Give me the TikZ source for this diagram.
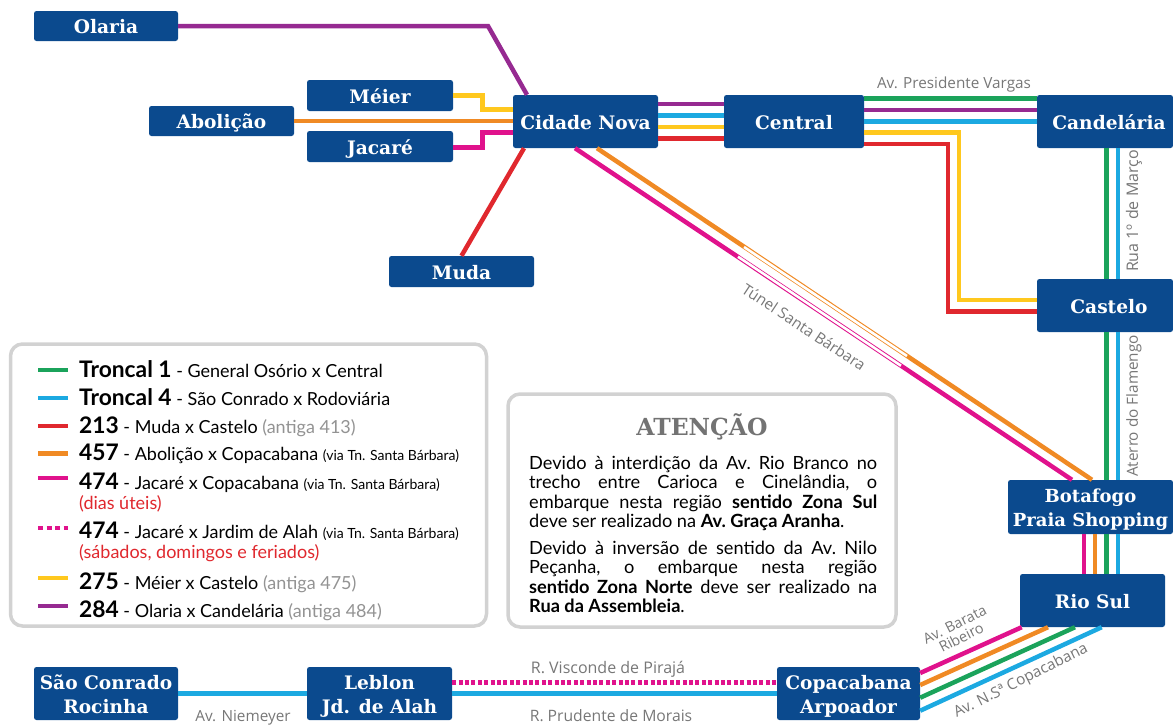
\documentclass[tikz,border=0pt]{standalone}
\usepackage{fontspec}
\setmainfont{Lato}
\newfontfamily\slab{DejaVu Serif}
\newfontfamily\open{Open Sans}
\definecolor{navy}{HTML}{0B4A8E}
\definecolor{cgreen}{HTML}{1BA35B}
\definecolor{cblue}{HTML}{1CA9E1}
\definecolor{cred}{HTML}{E0282E}
\definecolor{corange}{HTML}{F08A24}
\definecolor{cmag}{HTML}{E0128C}
\definecolor{cyel}{HTML}{FFC81E}
\definecolor{cpur}{HTML}{962A91}
\definecolor{boxgray}{HTML}{D2D2D2}
\definecolor{lblgray}{HTML}{777777}
\tikzset{
  station/.style={fill=navy,rounded corners=2.5pt,text=white,inner sep=0pt,align=center,text height=15.5pt,text depth=0pt,font=\slab\bfseries\fontsize{18.6}{24}\selectfont},
  stationtwo/.style={station,text height=39.5pt,text depth=0pt},
  route/.style={line width=4.5pt},
  tunnelwhite/.style={line width=2.6pt,draw=white},
  street/.style={text=lblgray,inner sep=0pt,font=\open\fontsize{15.3}{16}\selectfont,align=center},
  infobox/.style={draw=boxgray,line width=3.5pt,rounded corners=12pt,fill=white},
  lg/.style={anchor=base west,inner sep=0pt,text=black,font=\fontsize{18}{19}\selectfont},
  swatch/.style={line width=4.5pt},
  para/.style={anchor=north west,inner sep=0pt,text=black,text width=348pt,align=justify,font=\frenchspacing\fontsize{18.2}{19.2}\selectfont},
}
\newcommand{\gr}[1]{{\color{gray!85}#1}}
\newcommand{\sm}[1]{{\fontsize{14}{14}\selectfont #1}}
\newcommand{\nm}[1]{{\bfseries\fontsize{22.8}{20}\selectfont #1}}
\begin{document}
\begin{tikzpicture}[x=1pt,y=-1pt]
\useasboundingbox (0,0) rectangle (1173,726);
% stations
\node[station,minimum width=144pt,minimum height=30pt] (olaria) at (106,26) {Olaria};
\node[station,minimum width=146pt,minimum height=31pt] (meier) at (380,95.5) {Méier};
\node[station,minimum width=145pt,minimum height=30pt] (abolicao) at (221.5,121) {Abolição};
\node[station,minimum width=146pt,minimum height=31pt] (jacare) at (380,146.5) {Jacaré};
\node[station,minimum width=145pt,minimum height=53pt] (cidade) at (585.5,121.5) {Cidade Nova};
\node[station,minimum width=140pt,minimum height=53pt] (central) at (794,121.5) {Central};
\node[station,minimum width=136pt,minimum height=53pt] (candelaria) at (1105,121.5) {\hspace*{8pt}Candelária};
\node[station,minimum width=145pt,minimum height=31pt] (muda) at (461.5,271.5) {Muda};
\node[station,minimum width=136pt,minimum height=53pt] (castelo) at (1105,305.5) {\hspace*{8pt}Castelo};
\node[stationtwo,minimum width=165pt,minimum height=54pt,font=\slab\bfseries\fontsize{18}{24}\selectfont] (botafogo) at (1090.5,507) {Botafogo\\Praia Shopping};
\node[station,minimum width=145pt,minimum height=53pt] (riosul) at (1092.5,600.5) {Rio Sul};
\node[stationtwo,minimum width=144pt,minimum height=53pt] (saoconrado) at (106,693.5) {São Conrado\\Rocinha};
\node[stationtwo,minimum width=145pt,minimum height=53pt] (leblon) at (379.5,693.5) {Leblon\\Jd. de Alah};
\node[stationtwo,minimum width=143pt,minimum height=53pt] (copacabana) at (848.5,693.5) {Copacabana\\Arpoador};
% upstream connectors
\draw[route,cpur] (olaria.east) -- (488,26) -- (cidade.north -| 527,0);
\draw[route,cyel] (meier.east) -- (482.7,95.5) -- (482.7,109.7) -- (cidade.west |- 0,109.7);
\draw[route,corange] (abolicao.east) -- (cidade.west |- 0,121);
\draw[route,cmag] (jacare.east |- 0,147.7) -- (482.7,147.7) -- (482.7,132.3) -- (cidade.west |- 0,132.3);
\draw[route,cred] (muda.north) -- (cidade.south -| 524,0);
% cidade - central
\draw[route,cpur] (cidade.east |- 0,104) -- (central.west |- 0,104);
\draw[route,cblue] (cidade.east |- 0,115.7) -- (central.west |- 0,115.7);
\draw[route,cyel] (cidade.east |- 0,126.8) -- (central.west |- 0,126.8);
\draw[route,cred] (cidade.east |- 0,138.3) -- (central.west |- 0,138.3);
% central - candelaria / castelo
\draw[route,cgreen] (central.east |- 0,98.7) -- (candelaria.west |- 0,98.7);
\draw[route,cpur] (central.east |- 0,110) -- (candelaria.west |- 0,110);
\draw[route,cblue] (central.east |- 0,121.3) -- (candelaria.west |- 0,121.3);
\draw[route,cyel] (central.east |- 0,132.7) -- (959,132.7) -- (959,300) -- (castelo.west |- 0,300);
\draw[route,cred] (central.east |- 0,144) -- (948,144) -- (948,311.7) -- (castelo.west |- 0,311.7);
% vertical trunk
\draw[route,cgreen] (candelaria.south -| 1106.7,0) -- (castelo.north -| 1106.7,0);
\draw[route,cblue] (candelaria.south -| 1118,0) -- (castelo.north -| 1118,0);
\draw[route,cgreen] (castelo.south -| 1106.7,0) -- (botafogo.north -| 1106.7,0);
\draw[route,cblue] (castelo.south -| 1118,0) -- (botafogo.north -| 1118,0);
\draw[route,cgreen] (botafogo.south -| 1106.7,0) -- (riosul.north -| 1106.7,0);
\draw[route,cblue] (botafogo.south -| 1118,0) -- (riosul.north -| 1118,0);
\draw[route,cmag] (botafogo.south -| 1084,0) -- (riosul.north -| 1084,0);
\draw[route,corange] (botafogo.south -| 1095,0) -- (riosul.north -| 1095,0);
% tunnel diagonals
\draw[route,corange] (cidade.south -| 597,0) -- (botafogo.north -| 1092,0);
\draw[route,cmag] (cidade.south -| 575,0) -- (botafogo.north -| 1072,0);
\draw[tunnelwhite] (744,247) -- (907,356);
\draw[tunnelwhite] (738,256.7) -- (901,365.7);
% lower diagonals
\draw[route,cmag] (copacabana.east |- 0,673) -- (riosul.south -| 1021.7,0);
\draw[route,corange] (copacabana.east |- 0,685) -- (riosul.south -| 1048,0);
\draw[route,cgreen] (copacabana.east |- 0,697.7) -- (riosul.south -| 1075,0);
\draw[route,cblue] (copacabana.east |- 0,710.7) -- (riosul.south -| 1101.7,0);
% bottom
\draw[route,cblue] (saoconrado.east) -- (leblon.west);
\draw[route,cblue] (leblon.east) -- (copacabana.west);
\draw[line width=5pt,cmag,dash pattern=on 4pt off 2.4pt] (leblon.east |- 0,682.5) -- (copacabana.west |- 0,682.5);
% street labels
\node[street] (lpv) at (954,85) {Av. Presidente Vargas};
\node[street,rotate=90,font=\open\fontsize{16}{17}\selectfont] (lrm) at (1134,211) {Rua 1º de Março};
\node[street,rotate=90] (laf) at (1134,406) {Aterro do Flamengo};
\node[street,rotate=-33.5] (ltu) at (804,327) {Túnel Santa Bárbara};
\node[street,rotate=27,font=\open\fontsize{14.5}{14.5}\selectfont] (lbr) at (958,631) {Av. Barata\\Ribeiro};
\node[street,rotate=26.7] (lns) at (1021,681) {Av. N.Sª Copacabana};
\node[street] (lni) at (243,718) {Av. Niemeyer};
\node[street,font=\open\fontsize{16}{17}\selectfont] (lvp) at (608,669) {R. Visconde de Pirajá};
\node[street,font=\open\fontsize{15.7}{17}\selectfont] (lpm) at (611,716) {R. Prudente de Morais};
% legend box
\node[infobox,minimum width=476pt,minimum height=282pt] (legend) at (248.5,485) {};
\foreach \yy/\cc in {370/cgreen,398/cblue,426/cred,453.5/corange,478/cmag,578/cyel,606/cpur}
  \draw[swatch,\cc] (38,\yy) -- (68,\yy);
\draw[swatch,cmag,dash pattern=on 5pt off 3.5pt] (38,528) -- (68,528);
\node[lg] (l1) at (79,377) {\nm{Troncal 1} - General Osório x Central};
\node[lg] (l2) at (79,405) {\nm{Troncal 4} - São Conrado x Rodoviária};
\node[lg] (l3) at (79,433) {\nm{213} - Muda x Castelo \gr{(antiga 413)}};
\node[lg] (l4) at (79,460) {\nm{457} - Abolição x Copacabana \sm{(via Tn. Santa Bárbara)}};
\node[lg] (l5) at (79,489) {\nm{474} - Jacaré x Copacabana \sm{(via Tn. Santa Bárbara)}};
\node[lg,text=cred] (l5b) at (79,509) {(dias úteis)};
\node[lg] (l6) at (79,538) {\nm{474} - Jacaré x Jardim de Alah \sm{(via Tn. Santa Bárbara)}};
\node[lg,text=cred] (l6b) at (79,558) {(sábados, domingos e feriados)};
\node[lg] (l7) at (79,589) {\nm{275} - Méier x Castelo \gr{(antiga 475)}};
\node[lg] (l8) at (79,617) {\nm{284} - Olaria x Candelária \gr{(antiga 484)}};
% attention box
\node[infobox,minimum width=388pt,minimum height=233pt] (atencao) at (702,510.5) {};
\node[text=gray!90!black,inner sep=0pt,font=\slab\bfseries\fontsize{23.5}{24}\selectfont] (atitle) at (702,427) {ATENÇÃO};
\node[para] (p1) at (529,456) {Devido à interdição da Av. Rio Branco no\linebreak trecho entre Carioca e Cinelândia, o\linebreak embarque nesta região \textbf{sentido Zona Sul}\linebreak deve ser realizado na \textbf{Av. Graça Aranha}.};
\node[para] (p2) at (529,541) {Devido à inversão de sentido da Av. Nilo\linebreak Peçanha, o embarque nesta região\linebreak \textbf{sentido Zona Norte} deve ser realizado na\linebreak \textbf{Rua da Assembleia}.};
\end{tikzpicture}
\end{document}
